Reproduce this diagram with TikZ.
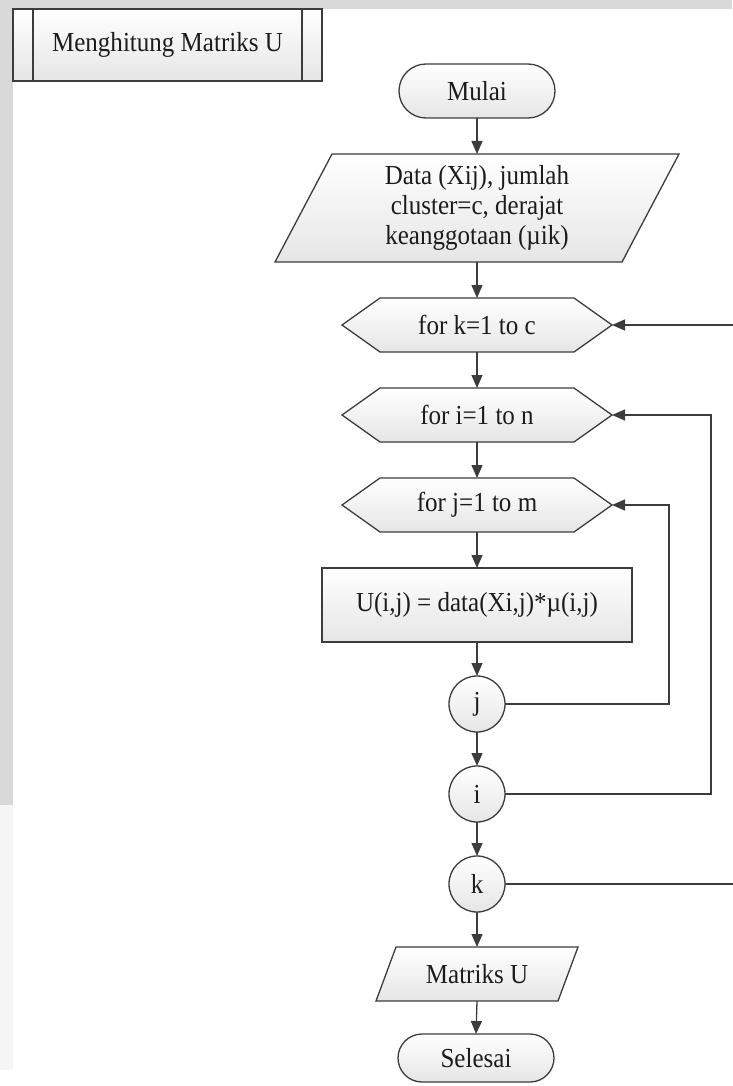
\documentclass[tikz,border=0pt]{standalone}
\usepackage{fontspec}
\setmainfont{Liberation Serif}[FakeStretch=0.91]
\usetikzlibrary{arrows.meta,backgrounds,calc,shapes.misc}

\definecolor{edge}{HTML}{3C3C3C}
\definecolor{ink}{HTML}{1C1C1C}
\definecolor{bandgray}{HTML}{D9D9D9}

\tikzset{
  holder/.style={inner sep=0pt, outer sep=0pt, text=ink, align=center,
    font=\fontsize{27.5}{30}\selectfont},
  outline/.style={draw=edge, line width=1.3pt, top color=white, bottom color=black!10},
  flow/.style={draw=edge, line width=1.3pt, -{Triangle[length=13pt,width=11pt]}},
  loopline/.style={draw=edge, line width=1.3pt},
}

% hexagonal loop header drawn round a rectangular holder node
\newcommand{\hexframe}[1]{%
  \draw[outline] (#1.west) -- ($(#1.north west)+(38,0)$) -- ($(#1.north east)+(-38,0)$)
    -- (#1.east) -- ($(#1.south east)+(-38,0)$) -- ($(#1.south west)+(38,0)$) -- cycle;}
% input/output parallelogram drawn round a rectangular holder node
\newcommand{\paraframe}[2]{%
  \draw[outline] ($(#1.north west)+(#2,0)$) -- (#1.north east)
    -- ($(#1.south east)+(-#2,0)$) -- (#1.south west) -- cycle;}

\begin{document}
\begin{tikzpicture}[x=1pt,y=-1pt]
\useasboundingbox (0,0) rectangle (732,1086);

% predefined-process title box
\node[holder, outline, minimum width=309pt, minimum height=72pt] (sub) at (167.5,45) {Menghitung Matriks U};
\draw[loopline] ([xshift=20pt]sub.north west) -- ([xshift=20pt]sub.south west);
\draw[loopline] ([xshift=-20pt]sub.north east) -- ([xshift=-20pt]sub.south east);

% main column
\node[holder, outline, rounded rectangle, minimum width=156pt, minimum height=54pt] (mulai) at (477,91) {Mulai};
\node[holder, minimum width=404pt, minimum height=108pt] (data) at (477,208)
  {Data (Xij), jumlah\\cluster=c, derajat\\keanggotaan (µik)};
\node[holder, minimum width=270pt, minimum height=54pt] (hk) at (477,325) {for k=1 to c};
\node[holder, minimum width=270pt, minimum height=54pt] (hi) at (477,415) {for i=1 to n};
\node[holder, minimum width=270pt, minimum height=54pt] (hj) at (477,505) {for j=1 to m};
\node[holder, outline, minimum width=310pt, minimum height=74pt] (calc) at (477,605) {U(i,j) = data(Xi,j)*µ(i,j)};
\node[holder, outline, circle, minimum size=56pt] (cj) at (477,704) {j};
\node[holder, outline, circle, minimum size=56pt] (ci) at (477,794) {i};
\node[holder, outline, circle, minimum size=56pt] (ck) at (477,884) {k};
\node[holder, minimum width=202pt, minimum height=54pt] (out) at (477,974) {Matriks U};
\node[holder, outline, rounded rectangle, minimum width=156pt, minimum height=48pt] (selesai) at (476,1058) {Selesai};

\begin{scope}[on background layer]
  \fill[bandgray] (0,0) rectangle (732,9);
  \fill[bandgray] (0,0) rectangle (13,805);
  \fill[black!4] (0,805) rectangle (13,1070);
  \paraframe{data}{57}
  \hexframe{hk}
  \hexframe{hi}
  \hexframe{hj}
  \paraframe{out}{20}
\end{scope}

% straight flow
\draw[flow] (mulai.south) -- (data.north);
\draw[flow] (data.south) -- (hk.north);
\draw[flow] (hk.south) -- (hi.north);
\draw[flow] (hi.south) -- (hj.north);
\draw[flow] (hj.south) -- (calc.north);
\draw[flow] (calc.south) -- (cj.north);
\draw[flow] (cj.south) -- (ci.north);
\draw[flow] (ci.south) -- (ck.north);
\draw[flow] (ck.south) -- (out.north);
\draw[flow] (out.south) -- (selesai.north);

% loop returns
\coordinate (jx) at (669,0);
\coordinate (ix) at (711,0);
\coordinate (kx) at (745,0);
\draw[flow] (cj.east) -- (cj.east -| jx) -- (hj.east -| jx) -- (hj.east);
\draw[flow] (ci.east) -- (ci.east -| ix) -- (hi.east -| ix) -- (hi.east);
\draw[flow] (ck.east) -- (ck.east -| kx) -- (hk.east -| kx) -- (hk.east);
\end{tikzpicture}
\end{document}
